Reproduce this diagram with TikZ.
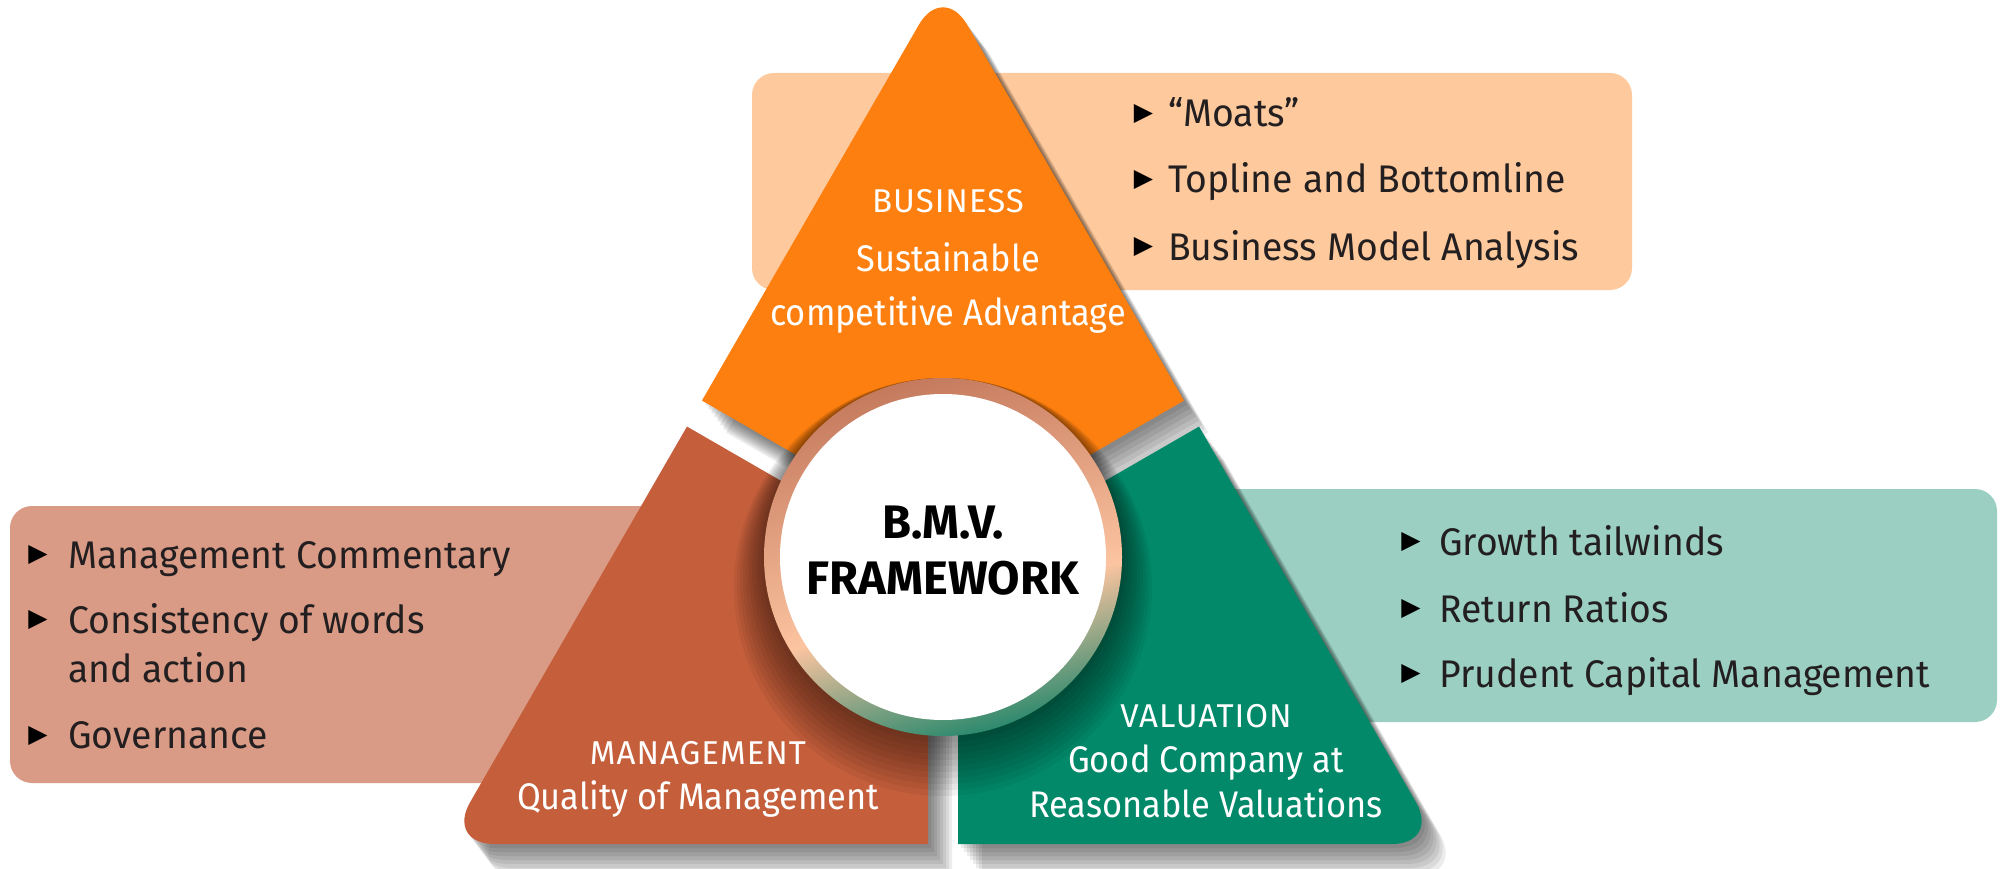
\documentclass[tikz,border=0pt]{standalone}
\usepackage{fontspec}
\setmainfont{Fira Sans}
\newfontfamily\listfont{Fira Sans}[FakeStretch=0.97]
\newfontfamily\piecefont{Fira Sans}[FakeStretch=0.93]
\newfontfamily\headfont{Fira Sans}[LetterSpace=3]
\newfontfamily\bulletfont{DejaVu Sans}

\definecolor{bizorange}{HTML}{FD7F0F}
\definecolor{mgmtbrown}{HTML}{C45E3B}
\definecolor{valteal}{HTML}{02896A}
\definecolor{bizbox}{HTML}{FEC99C}
\definecolor{mgmtbox}{HTML}{DA9B86}
\definecolor{valbox}{HTML}{9ACFC1}
\definecolor{listtext}{HTML}{231F20}
\definecolor{ringbrown}{HTML}{C57A5D}
\definecolor{ringpeach}{HTML}{FCC4A0}
\definecolor{ringteal}{HTML}{2E8A6E}
\pgfdeclareverticalshading{ringshade}{100bp}{color(0bp)=(ringteal); color(25bp)=(ringteal); color(43bp)=(ringpeach); color(75bp)=(ringbrown); color(100bp)=(ringbrown)}

% the big triangle and the three pieces cut out of it
\newcommand{\bigtri}{(943,844) -- (1440,844) -- (943,-17) -- (446,844) -- cycle}
\newcommand{\bizclip}{(943,539.7) -- (615.4,350.6) -- (615.4,-100) -- (1270.6,-100) -- (1270.6,350.6) -- cycle}
\newcommand{\mgmtclip}{(928,565.7) -- (600.4,376.6) -- (300,376.6) -- (300,950) -- (928,950) -- cycle}
\newcommand{\valclip}{(958,565.7) -- (1285.6,376.6) -- (1586,376.6) -- (1586,950) -- (958,950) -- cycle}

\begin{document}
\begin{tikzpicture}[x=1pt, y=-1pt,
    listitem/.style={anchor=base west, inner sep=0pt, text=listtext, font=\listfont\fontsize{38.5}{44}\selectfont},
    bulletmark/.style={inner sep=0pt, font=\bulletfont\fontsize{25}{25}\selectfont},
    piecehead/.style={anchor=base, inner sep=0pt, text=white, font=\headfont\fontsize{33}{40}\selectfont},
    piecetext/.style={anchor=base, inner sep=0pt, text=white, font=\piecefont\fontsize{37}{44}\selectfont},
    coretext/.style={anchor=base, inner sep=0pt, font=\bfseries\fontsize{47}{52}\selectfont},
    piece/.style={rounded corners=48pt}]

  \fill[white] (0,0) rectangle (2000,869);
  \useasboundingbox (0,0) rectangle (2000,869);

  % boxes behind the triangle
  \fill[bizbox, rounded corners=22pt] (752,73) rectangle (1632,290);
  \fill[mgmtbox, rounded corners=22pt] (10,506) rectangle (700,783);
  \fill[valbox, rounded corners=22pt] (1150,489) rectangle (1997,722);

  % soft shadows of the pieces
  \foreach \k in {1,...,8} {
    \begin{scope}[shift={(3*\k,4*\k)}]
      \begin{scope}
        \clip \bizclip;
        \fill[piece, black, opacity=0.075] \bigtri;
      \end{scope}
      \begin{scope}
        \clip \mgmtclip;
        \fill[piece, black, opacity=0.075] \bigtri;
      \end{scope}
      \begin{scope}
        \clip \valclip;
        \fill[piece, black, opacity=0.075] \bigtri;
      \end{scope}
    \end{scope}
  }

  % pieces
  \begin{scope}
    \clip \bizclip;
    \fill[piece, bizorange] \bigtri;
  \end{scope}
  \begin{scope}
    \clip \mgmtclip;
    \fill[piece, mgmtbrown] \bigtri;
  \end{scope}
  \begin{scope}
    \clip \valclip;
    \fill[piece, valteal] \bigtri;
  \end{scope}

  % centre circle
  \foreach \k in {1,...,10}
    \fill[black, opacity=0.05] (943,557+3*\k) circle[radius=179pt+3pt*\k];
  \shade[shading=ringshade, shading angle=15] (943,557) circle[radius=179pt];
  \node[circle, fill=white, inner sep=0pt, minimum size=326pt] (core) at (943,557) {};
  \node[coretext] (bmvtop) at (943,538) {B.M.V.};
  \node[coretext] (bmvbottom) at (943,594) {FRAMEWORK};

  % piece labels
  \node[piecehead] (bizhead) at (948,213) {BUSINESS};
  \node[piecetext] (bizline1) at (948,271) {Sustainable};
  \node[piecetext] (bizline2) at (948,325) {competitive Advantage};

  \node[piecehead] (mgmthead) at (698,764) {MANAGEMENT};
  \node[piecetext] (mgmtline) at (698,809) {Quality of Management};

  \node[piecehead] (valhead) at (1206,727) {VALUATION};
  \node[piecetext] (valline1) at (1206,772) {Good Company at};
  \node[piecetext] (valline2) at (1206,817) {Reasonable Valuations};

  % lists
  \node[bulletmark] (bizmark1) at (1143.5,114.5) {▶};
  \node[bulletmark] (bizmark2) at (1143.5,180.5) {▶};
  \node[bulletmark] (bizmark3) at (1143.5,247.5) {▶};
  \node[listitem] (bizitem1) at (1168,127) {“Moats”};
  \node[listitem] (bizitem2) at (1168,193) {Topline and Bottomline};
  \node[listitem] (bizitem3) at (1168,260) {Business Model Analysis};

  \node[bulletmark] (mgmtmark1) at (38,555.5) {▶};
  \node[bulletmark] (mgmtmark2) at (38,620.5) {▶};
  \node[bulletmark] (mgmtmark3) at (38,735.5) {▶};
  \node[listitem] (mgmtitem1) at (68,568) {Management Commentary};
  \node[listitem] (mgmtitem2) at (68,633) {Consistency of words};
  \node[listitem] (mgmtitem2b) at (68,682) {and action};
  \node[listitem] (mgmtitem3) at (68,748) {Governance};

  \node[bulletmark] (valmark1) at (1411,542.5) {▶};
  \node[bulletmark] (valmark2) at (1411,609.5) {▶};
  \node[bulletmark] (valmark3) at (1411,674.5) {▶};
  \node[listitem] (valitem1) at (1439,555) {Growth tailwinds};
  \node[listitem] (valitem2) at (1439,622) {Return Ratios};
  \node[listitem] (valitem3) at (1439,687) {Prudent Capital Management};
\end{tikzpicture}
\end{document}
